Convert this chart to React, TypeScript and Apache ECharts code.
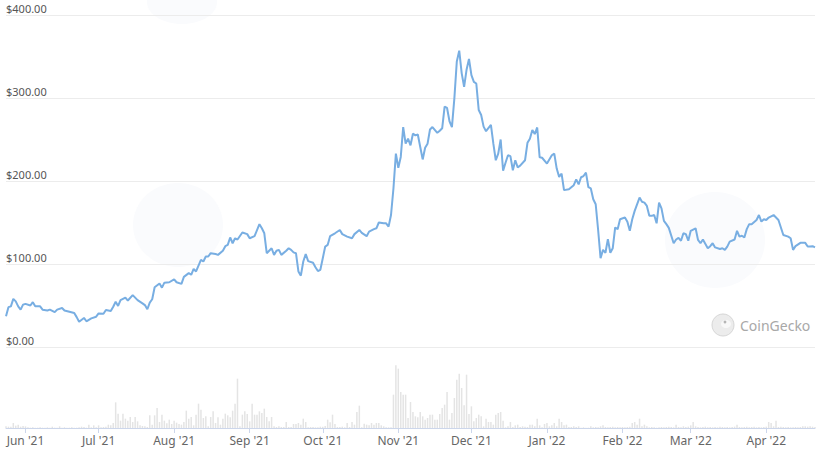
import React, { useEffect, useRef } from "react";
import * as echarts from "echarts";

// ---- data ----
const startDate = [2021, 4, 24]; // 2021-05-24 (UTC), day 0
const dayCount = 333;

const tickDates = [
  "2021-06-01", "2021-07-01", "2021-08-01", "2021-09-01", "2021-10-01", "2021-11-01",
  "2021-12-01", "2022-01-01", "2022-02-01", "2022-03-01", "2022-04-01",
];
const tickLabels = [
  "Jun '21", "Jul '21", "Aug '21", "Sep '21", "Oct '21", "Nov '21",
  "Dec '21", "Jan '22", "Feb '22", "Mar '22", "Apr '22",
];

const priceDays = [
  0, 1, 2, 3, 4, 5, 6, 7, 8, 10, 11, 12, 14, 15, 17, 18, 20, 21, 23, 24, 26, 28, 29, 30, 32, 33, 35, 37, 38, 40,
  41, 43, 44, 45, 46, 47, 49, 50, 52, 54, 56, 57, 58, 59, 60, 61, 63, 64, 65, 67, 69, 70, 72, 73, 75, 76, 77, 78,
  80, 81, 82, 83, 84, 86, 87, 89, 90, 91, 92, 93, 94, 95, 97, 99, 100, 102, 104, 105, 106, 107, 108, 109, 110,
  111, 112, 113, 115, 116, 117, 118, 119, 120, 121, 122, 123, 124, 126, 127, 128, 129, 130, 131, 132, 133, 135,
  137, 138, 140, 142, 143, 145, 146, 148, 149, 151, 152, 153, 155, 156, 157, 158, 159, 160, 161, 162, 163, 164,
  165, 166, 167, 168, 169, 170, 171, 172, 173, 174, 175, 177, 178, 179, 180, 181, 182, 183, 184, 185, 186, 187,
  188, 189, 190, 191, 192, 193, 194, 195, 196, 197, 199, 200, 201, 202, 203, 204, 205, 206, 207, 208, 209, 210,
  211, 213, 214, 215, 216, 217, 218, 219, 220, 222, 224, 225, 226, 227, 228, 229, 231, 233, 234, 235, 236, 237,
  238, 239, 240, 241, 242, 243, 244, 245, 246, 247, 248, 249, 250, 251, 252, 254, 255, 256, 257, 258, 260, 261,
  262, 263, 264, 265, 266, 267, 268, 269, 270, 271, 272, 274, 275, 276, 277, 278, 279, 280, 281, 283, 284, 285,
  286, 288, 289, 290, 291, 293, 294, 295, 296, 297, 299, 300, 301, 302, 303, 304, 305, 306, 308, 309, 310, 311,
  312, 313, 315, 317, 318, 319, 321, 322, 323, 324, 326, 328, 329, 330, 331, 332,
];
const priceValues = [
  37, 48, 49, 58, 55, 49, 45, 51, 52, 50, 54, 49, 49, 45, 44, 45, 42, 45, 47, 44, 42.5, 41, 36, 30.5, 35, 31, 34.5, 36.5, 40.5, 40,
  44.5, 43.5, 48.5, 54.5, 49.5, 56.5, 59.5, 56, 62.5, 56.5, 52.5, 50.5, 45.5, 53.5, 57.5, 72, 76.5, 71.5, 77.5, 78, 81.5, 78, 76, 84.5, 89, 87, 94, 91,
  105, 103, 109, 109, 113, 112, 111, 116, 121.5, 123, 132, 125, 131, 129.5, 138, 136, 131, 133.5, 148, 143, 137, 113, 116, 119, 111,
  116, 117, 111, 116, 119, 117, 114, 113, 91, 86, 103, 112, 103.5, 101.5, 96, 91.5, 93, 107, 121, 123, 133.5, 137,
  141, 136, 133, 131, 136, 141, 137.5, 133.5, 139, 142, 143, 150, 149, 149, 145, 159, 191, 233, 216, 229, 265, 245,
  251, 243, 257, 255, 256, 241, 226, 240, 245, 262, 265, 258, 260.5, 263.5, 289.5, 288, 272, 265, 299.5, 344, 357, 330,
  313.5, 334, 347, 327.5, 319.5, 317.5, 285.5, 279.5, 265.5, 260, 267.5, 245, 225, 233, 250, 212.5, 222, 231, 230, 213, 225, 216.5,
  218.5, 225, 246, 251, 261.5, 256.5, 264.5, 228.5, 228, 221, 231, 233, 215, 205, 209, 189, 190, 195, 202, 196, 204.5, 206,
  210, 192.5, 191, 178, 172, 141, 107, 117, 113.5, 130, 113.5, 119, 144, 142, 154, 156, 151, 140, 154, 164, 180, 175,
  174, 170, 158, 158, 159, 149, 174, 167, 152, 148, 143.5, 125, 129.5, 131.5, 128, 137, 136, 128, 140, 143, 129, 125,
  129.5, 119, 121.5, 125, 120, 118, 119, 117, 121, 127, 129.5, 140, 133, 134, 132, 142, 148, 148, 153, 159, 151, 154,
  153, 156, 159, 153, 144, 135, 133, 131, 117, 121.5, 125.5, 125.5, 121, 121, 121.5, 120,
];

// daily traded volume (relative units), day 0 .. day 332
const volumeValues = [
  5, 4, 4, 15, 7, 10, 4, 6, 5,
  2, 1, 2, 1, 1, 2, 1, 1, 2, 1,
  4, 1, 1, 5,
  1, 2, 1, 1, 2, 1, 1, 2,
  4, 3, 1, 10, 2, 8, 2, 8, 2, 3, 4, 10, 8, 15,
  77, 43, 22, 43, 28, 22, 33, 18, 33, 20, 8, 6, 5, 3,
  38, 10, 38, 60, 18, 40, 22, 14, 25, 12, 22, 16, 12, 10, 18, 52, 28, 33, 8, 40, 73, 55,
  30, 35, 5, 33, 50, 15, 32, 10, 28, 43, 38, 32, 52, 73, 148, 5, 40, 50, 42, 20,
  73, 40, 40, 50, 45, 58, 33, 20, 33, 5, 3, 5, 3, 3, 18, 3, 3, 12, 12, 15,
  10, 28, 18, 2, 3, 3, 2, 2, 4, 4, 6, 25, 17, 40, 12, 3, 3, 4, 2, 15,
  3, 18, 10, 48, 67, 2, 13, 10, 8, 15, 10, 15, 15, 8, 5, 2, 2, 2, 100, 188,
  178, 108, 100, 100, 30, 78, 48, 35, 32, 48, 35, 25, 30, 40, 40, 25, 25, 42, 60, 70,
  108, 25, 45, 90, 145, 163, 120, 68, 160, 42, 65, 20, 30, 40, 35, 5, 28, 18, 18, 10,
  40, 45, 48, 22, 2, 5, 18, 3, 8, 10, 3, 5, 4, 3, 10, 10, 5, 28, 8, 2,
  12, 15, 5, 8, 15, 5, 28, 18, 8, 10, 3, 3, 5, 3, 5, 1, 2, 1, 1, 5, 2, 3, 2, 5, 8,
  3, 2, 3, 4, 2, 3, 2, 3, 2, 3, 4,
  15, 18, 10, 28, 5, 10, 5,
  2, 3, 2, 1, 2, 3, 2, 3, 4, 3, 2,
  10,
  3, 2, 5, 3, 4,
  8, 18, 5,
  3, 2, 3, 4, 2, 3, 2, 3, 2, 4, 3, 2, 3, 2, 3, 4,
  10,
  3, 2, 3, 4, 2, 3, 4, 2, 3, 2, 3, 4,
  18, 15, 5, 22,
  3, 4, 3, 2, 3, 2, 2, 3, 2, 3, 5, 5, 4, 5, 4, 3,
];

const FONT = "'Noto Sans', 'Open Sans', sans-serif";

function buildCategories(): string[] {
  const out: string[] = [];
  const t0 = Date.UTC(startDate[0], startDate[1], startDate[2]);
  for (let i = 0; i < dayCount; i++) {
    const d = new Date(t0 + i * 86400000);
    const m = String(d.getUTCMonth() + 1).padStart(2, "0");
    const dd = String(d.getUTCDate()).padStart(2, "0");
    out.push(`${d.getUTCFullYear()}-${m}-${dd}`);
  }
  return out;
}

export default function App() {
  const ref = useRef<HTMLDivElement>(null);

  useEffect(() => {
    document.body.style.margin = "0";
    if (!ref.current) return;
    const chart = echarts.init(ref.current, null, { renderer: "svg" });
    const categories = buildCategories();
    const isTick = (_i: number, v: string) => tickDates.indexOf(v) >= 0;
    const linePoints = priceDays.map((d, i) => [d, priceValues[i]]);

    const option: any = {
      animation: false,
      backgroundColor: "#ffffff",
      grid: [
        { left: 6, right: 12, top: 15, height: 332, containLabel: false },
        { left: 6, right: 12, top: 355, height: 73, containLabel: false },
      ],
      xAxis: [
        {
          type: "category",
          gridIndex: 0,
          data: categories,
          boundaryGap: false,
          show: false,
        },
        {
          type: "category",
          gridIndex: 1,
          data: categories,
          boundaryGap: false,
          axisLine: { show: true, lineStyle: { color: "#ccd6eb", width: 1 } },
          axisTick: { show: true, interval: isTick, length: 5, lineStyle: { color: "#ccd6eb" } },
          axisLabel: {
            interval: isTick,
            formatter: (v: string) => {
              const k = tickDates.indexOf(v);
              return k >= 0 ? tickLabels[k] : "";
            },
            color: "#666666",
            fontSize: 12,
            fontFamily: FONT,
            margin: 6,
          },
          splitLine: { show: false },
        },
      ],
      yAxis: [
        {
          type: "value",
          gridIndex: 0,
          min: 0,
          max: 400,
          interval: 100,
          axisLine: { show: false },
          axisTick: { show: false },
          splitLine: { show: true, lineStyle: { color: "#ececec", width: 1 } },
          axisLabel: {
            inside: true,
            margin: 0,
            verticalAlign: "bottom",
            padding: [0, 0, 1, 0],
            color: "#555555",
            fontSize: 11,
            fontFamily: FONT,
            formatter: (v: number) => `$${v.toFixed(2)}`,
          },
        },
        {
          type: "value",
          gridIndex: 1,
          min: 0,
          max: 219,
          show: false,
          splitLine: { show: false },
        },
      ],
      graphic: [
        { type: "ellipse", shape: { cx: 178, cy: 225, rx: 45, ry: 42 }, style: { fill: "#fafbfd" }, z: -10, silent: true },
        { type: "ellipse", shape: { cx: 715, cy: 240, rx: 50, ry: 48 }, style: { fill: "#fafbfd" }, z: -10, silent: true },
        { type: "ellipse", shape: { cx: 182, cy: 2, rx: 35, ry: 22 }, style: { fill: "#fafbfd" }, z: -10, silent: true },
        {
          type: "circle",
          shape: { cx: 723, cy: 325, r: 11 },
          style: { fill: "#ececec", stroke: "#d6d6d6", lineWidth: 1 },
          z: 1,
        },
        {
          type: "ellipse",
          shape: { cx: 726, cy: 324, rx: 5, ry: 4 },
          style: { fill: "#f8f8f8" },
          z: 1,
        },
        {
          type: "circle",
          shape: { cx: 725, cy: 322, r: 1.4 },
          style: { fill: "#b5b5b5" },
          z: 1,
        },
        {
          type: "text",
          x: 740,
          y: 325,
          style: {
            text: "CoinGecko",
            fill: "#a8a8a8",
            fontSize: 14,
            fontFamily: FONT,
            verticalAlign: "middle",
            textAlign: "left",
          },
          z: 1,
        },
      ],
      series: [
        {
          type: "line",
          xAxisIndex: 0,
          yAxisIndex: 0,
          data: linePoints,
          showSymbol: false,
          symbol: "none",
          smooth: false,
          lineStyle: { color: "#78aee2", width: 2 },
          z: 3,
        },
        {
          type: "bar",
          xAxisIndex: 1,
          yAxisIndex: 1,
          data: volumeValues,
          barWidth: 1.5,
          itemStyle: { color: "#e4e4e4" },
        },
      ],
    };
    chart.setOption(option);
    return () => chart.dispose();
  }, []);

  return (
    <div
      ref={ref}
      style={{ position: "fixed", left: 0, top: 0, width: 827, height: 454 }}
    />
  );
}
